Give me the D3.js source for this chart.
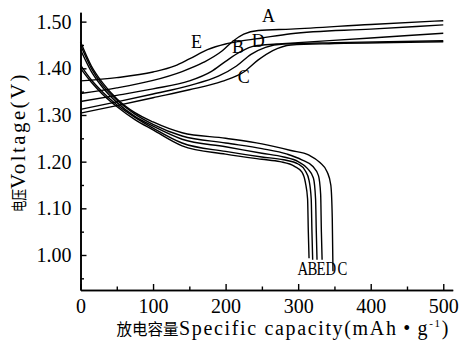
<!DOCTYPE html>
<html>
<head>
<meta charset="utf-8">
<script src="https://cdn.jsdelivr.net/npm/d3@7"></script>
<style>
  body { margin: 0; background: #fff; }
  svg text { font-family: "Liberation Serif", "Times New Roman", serif; fill: #000; }
  svg text.cjk { font-family: "Noto Sans CJK SC", sans-serif; }
</style>
</head>
<body>
<div id="chart"></div>
<script>
// charge curves [capacity, voltage]
const chargeA = [[0,1.346],[50,1.358],[100,1.374],[140,1.393],[170,1.413],[195,1.437],[210,1.458],[225,1.473],[245,1.481],[290,1.484],[400,1.494],[500,1.502]];
const chargeE = [[0,1.373],[50,1.380],[100,1.392],[130,1.405],[150,1.42],[175,1.44],[200,1.452],[220,1.458],[250,1.465],[290,1.474],[400,1.484],[500,1.493]];
const chargeB = [[0,1.329],[50,1.342],[100,1.356],[150,1.373],[180,1.393],[200,1.415],[220,1.435],[240,1.448],[270,1.452],[300,1.455],[400,1.465],[500,1.475]];
const chargeD = [[0,1.312],[50,1.328],[100,1.345],[150,1.363],[190,1.383],[215,1.405],[235,1.43],[255,1.445],[280,1.452],[350,1.455],[500,1.459]];
const chargeC = [[0,1.304],[50,1.32],[100,1.337],[150,1.354],[195,1.372],[225,1.392],[245,1.418],[265,1.438],[290,1.45],[350,1.453],[500,1.457]];

// discharge curves [capacity, voltage]
const dischargeC = [[0,1.457],[15,1.405],[30,1.37],[50,1.335],[75,1.305],[100,1.285],[140,1.262],[200,1.25],[250,1.238],[290,1.224],[315,1.214],[330,1.198],[340,1.178],[345,1.15],[347,1.08],[348,0.965]];
const dischargeD = [[0,1.45],[15,1.4],[30,1.365],[50,1.332],[75,1.302],[100,1.28],[140,1.255],[200,1.24],[250,1.228],[285,1.216],[305,1.204],[320,1.19],[328,1.17],[331,1.13],[332,1.05],[333,0.99]];
const dischargeE = [[0,1.44],[15,1.393],[30,1.36],[50,1.327],[75,1.297],[100,1.276],[140,1.248],[200,1.232],[250,1.218],[280,1.21],[300,1.2],[313,1.185],[321,1.165],[324,1.12],[325,1.05],[326,0.99]];
const dischargeB = [[0,1.407],[15,1.375],[30,1.35],[50,1.322],[75,1.295],[100,1.272],[140,1.24],[200,1.222],[250,1.21],[280,1.204],[300,1.195],[310,1.18],[315,1.16],[318,1.12],[319,1.05],[320,0.99]];
const dischargeA = [[0,1.4],[15,1.37],[30,1.345],[50,1.318],[75,1.29],[100,1.268],[140,1.234],[200,1.216],[250,1.205],[275,1.2],[295,1.19],[305,1.178],[310,1.155],[313,1.12],[314,1.05],[315,0.993]];

const xTicks = [0, 100, 200, 300, 400, 500];
const yTicks = [1.00, 1.10, 1.20, 1.30, 1.40, 1.50];
const xMinor = [50, 150, 250, 350, 450];
const yMinor = [0.95, 1.05, 1.15, 1.25, 1.35, 1.45];

// curve labels [text, capacity, voltage] (baseline position)
const chargeLabels = [['A', 259, 1.499], ['E', 160, 1.4435], ['B', 217, 1.433], ['D', 245, 1.4457], ['C', 225, 1.3686]];
const dischargeLabels = [['A', 306.5, 0.957], ['B', 319.5, 0.957], ['E', 331.5, 0.957], ['D', 345, 0.957], ['C', 361, 0.957]];

const width = 463, height = 342;
const svg = d3.select('#chart').append('svg').attr('width', width).attr('height', height);

const x = d3.scaleLinear().domain([0, 513]).range([80.5, 452.7]);
const y = d3.scaleLinear().domain([0.925, 1.52]).range([290, 12.3]);

const line = d3.line().x((d) => x(d[0])).y((d) => y(d[1])).curve(d3.curveMonotoneX);

const curves = [chargeA, chargeE, chargeB, chargeD, chargeC, dischargeC, dischargeD, dischargeE, dischargeB, dischargeA];
svg.append('g').selectAll('path').data(curves).enter().append('path')
  .attr('d', line).attr('fill', 'none').attr('stroke', '#000').attr('stroke-width', 1.4);

// axes with inward ticks
svg.append('g').attr('transform', `translate(0,${y.range()[0]})`)
  .call(d3.axisBottom(x).tickValues(xTicks).tickSizeInner(-6).tickSizeOuter(0).tickPadding(9).tickFormat(d3.format('d')));
svg.append('g').attr('transform', `translate(${x.range()[0]},0)`)
  .call(d3.axisLeft(y).tickValues(yTicks).tickSizeInner(-6).tickSizeOuter(0).tickPadding(9).tickFormat(d3.format('.2f')));
svg.append('g').attr('transform', `translate(0,${y.range()[0]})`)
  .call(d3.axisBottom(x).tickValues(xMinor).tickSizeInner(-3.5).tickSizeOuter(0).tickFormat(''));
svg.append('g').attr('transform', `translate(${x.range()[0]},0)`)
  .call(d3.axisLeft(y).tickValues(yMinor).tickSizeInner(-3.5).tickSizeOuter(0).tickFormat(''));

svg.selectAll('.domain').attr('stroke', '#000').attr('stroke-width', 1.6);
svg.selectAll('.tick line').attr('stroke', '#000').attr('stroke-width', 1.4);
svg.selectAll('.tick text').style('font-family', '"Liberation Serif", serif').style('font-size', '20px').attr('fill', '#000');

svg.append('g').selectAll('text').data(chargeLabels).enter().append('text')
  .attr('x', (d) => x(d[1])).attr('y', (d) => y(d[2]))
  .attr('text-anchor', 'middle').style('font-size', '18px').text((d) => d[0]);

// end-of-discharge labels, narrow letters packed side by side
svg.append('g').selectAll('text').data(dischargeLabels).enter().append('text')
  .attr('transform', (d) => `translate(${x(d[1])},${y(d[2])}) scale(0.82,1)`)
  .attr('text-anchor', 'middle').style('font-size', '18px').text((d) => d[0]);

// axis titles
svg.append('text').attr('class', 'cjk').attr('x', 116.5).attr('y', 335)
  .attr('textLength', 62).attr('lengthAdjust', 'spacingAndGlyphs').style('font-size', '16px').text('放电容量');
const xt = svg.append('text').attr('x', 179).attr('y', 335).style('font-size', '20px');
xt.append('tspan').text('Specific capacity(mAh\u2009\u2022\u2009g');
xt.append('tspan').style('font-size', '11px').attr('dy', -8).text('-1');
xt.append('tspan').attr('dy', 8).text(')');
const xtw = xt.node().getComputedTextLength();
xt.style('letter-spacing', `${(271 - xtw) / 28}px`);

svg.append('text').attr('class', 'cjk').attr('transform', 'translate(25,212) rotate(-90)')
  .attr('textLength', 23).attr('lengthAdjust', 'spacingAndGlyphs').style('font-size', '16px').text('电压');
const yt = svg.append('text').attr('transform', 'translate(25,189) rotate(-90)').style('font-size', '21px').text('Voltage(V)');
const ytw = yt.node().getComputedTextLength();
yt.style('letter-spacing', `${(117 - ytw) / 10}px`);
</script>
</body>
</html>
